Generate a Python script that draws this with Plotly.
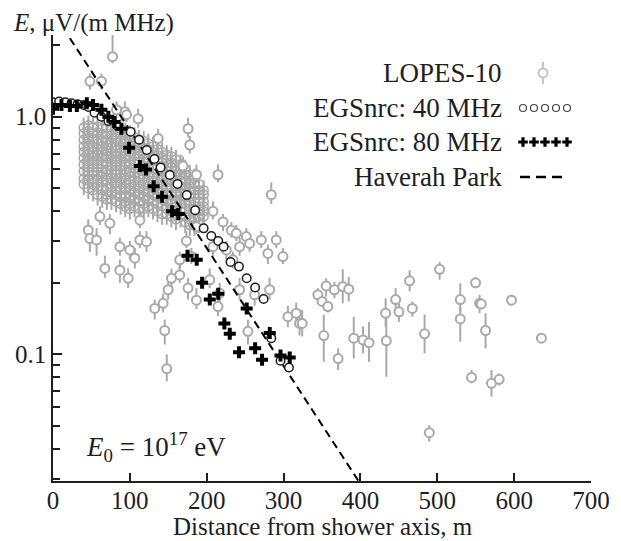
import plotly.graph_objects as go

# ---------------- data ----------------
# EGSnrc simulation, 40 MHz (open circles)
egs40_x = [0, 8, 16, 24, 32, 40, 46, 54, 63, 72, 83, 101, 112, 122, 132, 140, 152, 162,
           174, 185, 196, 206, 215, 222, 231, 242, 252, 263, 274, 284, 296, 307]
egs40_y = [1.15, 1.16, 1.15, 1.14, 1.13, 1.12, 1.10, 1.04, 1.0, 0.96, 0.92, 0.865, 0.80,
           0.724, 0.664, 0.612, 0.569, 0.521, 0.468, 0.404, 0.339, 0.315, 0.300, 0.284,
           0.245, 0.234, 0.209, 0.191, 0.171, 0.117, 0.094, 0.088]

# EGSnrc simulation, 80 MHz (black crosses)
egs80_x = [0, 11, 22, 31, 44, 52, 63, 72, 80, 89, 99, 113, 121, 131, 142, 155, 163, 175,
           187, 194, 204, 215, 223, 230, 242, 252, 263, 272, 282, 296, 308]
egs80_y = [1.08, 1.12, 1.11, 1.11, 1.14, 1.12, 1.07, 1.0, 0.95, 0.89, 0.74, 0.62, 0.60,
           0.51, 0.46, 0.40, 0.39, 0.26, 0.25, 0.20, 0.17, 0.18, 0.135, 0.122, 0.102,
           0.156, 0.106, 0.095, 0.123, 0.099, 0.097]

# Haverah Park parametrisation (dashed line)
hp_x = [22, 400]
hp_y = [2.14, 0.0285]

# LOPES-10 events: distance, field, error-bar top, error-bar bottom
lopes_x = [77.5, 48, 63, 93.5, 110.8, 175.8, 178, 284, 82.7, 95.7, 136.8, 169.2, 186.6,
           214.7, 208.2, 221.2, 232, 238.5, 251.5, 255.8, 271, 290.5, 279.6, 299.1, 242.8,
           225.5, 208.2, 186.6, 173.6, 180, 164.9, 164.9, 154.1, 149.8, 143.3, 132.4, 145.4,
           148, 175.7, 186.6, 203.9, 216.9, 214.7, 234.2, 242.8, 262.3, 281.8, 305.6, 316.4,
           320.8, 253.6, 45.9, 48, 56.7, 67.5, 61, 74, 87, 87, 97.8, 100, 106.5, 113, 121.6,
           113, 324.2, 344.6, 350.2, 357.6, 355.4, 366.2, 377, 384.8, 352.3, 371, 391.3,
           403.4, 411.2, 433.7, 432.8, 445.8, 450.1, 464, 467.5, 483.5, 503, 529.9, 529.9,
           549.8, 555, 557.2, 562.8, 544.6, 570.5, 580.5, 596.5, 635.5, 489.6]
lopes_y = [1.79, 1.41, 1.41, 1.05, 0.98, 0.89, 0.76, 0.47, 1.07, 1.02, 0.81, 0.62, 0.57,
           0.57, 0.40, 0.361, 0.333, 0.323, 0.313, 0.293, 0.303, 0.303, 0.266, 0.258, 0.284,
           0.275, 0.284, 0.344, 0.30, 0.258, 0.25, 0.216, 0.209, 0.187, 0.164, 0.156, 0.126,
           0.087, 0.19, 0.169, 0.206, 0.181, 0.159, 0.25, 0.187, 0.178, 0.187, 0.144, 0.149,
           0.135, 0.125, 0.333, 0.307, 0.303, 0.23, 0.38, 0.356, 0.284, 0.226, 0.209, 0.275,
           0.254, 0.303, 0.298, 0.367, 0.135, 0.178, 0.167, 0.159, 0.194, 0.187, 0.193,
           0.188, 0.120, 0.096, 0.117, 0.115, 0.112, 0.114, 0.149, 0.170, 0.151, 0.204,
           0.156, 0.122, 0.228, 0.170, 0.141, 0.200, 0.164, 0.163, 0.126, 0.080, 0.0755,
           0.0785, 0.169, 0.117, 0.0468]
lopes_hi = [2.28, 1.52, 1.52, 1.16, 1.08, 0.99, 0.83, 0.53, 1.16, 1.10, 0.89, 0.68, 0.63,
            0.63, 0.44, 0.39, 0.36, 0.35, 0.34, 0.32, 0.33, 0.33, 0.29, 0.28, 0.31, 0.30,
            0.31, 0.37, 0.33, 0.28, 0.27, 0.24, 0.23, 0.21, 0.18, 0.17, 0.14, 0.10, 0.21,
            0.19, 0.23, 0.20, 0.175, 0.27, 0.21, 0.20, 0.21, 0.16, 0.165, 0.15, 0.14, 0.37,
            0.34, 0.34, 0.26, 0.42, 0.39, 0.31, 0.25, 0.23, 0.30, 0.28, 0.33, 0.33, 0.40,
            0.154, 0.19, 0.18, 0.165, 0.209, 0.202, 0.228, 0.212, 0.147, 0.106, 0.144,
            0.131, 0.137, 0.156, 0.172, 0.190, 0.164, 0.226, 0.167, 0.147, 0.245, 0.199,
            0.159, 0.212, 0.178, 0.17, 0.149, 0.086, 0.086, 0.083, 0.178, 0.123, 0.0504]
lopes_lo = [1.68, 1.30, 1.30, 0.96, 0.90, 0.82, 0.70, 0.43, 0.99, 0.95, 0.75, 0.57, 0.53,
            0.53, 0.37, 0.33, 0.31, 0.30, 0.29, 0.27, 0.28, 0.28, 0.24, 0.24, 0.26, 0.25,
            0.26, 0.32, 0.28, 0.24, 0.23, 0.20, 0.19, 0.17, 0.15, 0.14, 0.11, 0.077, 0.17,
            0.155, 0.19, 0.165, 0.145, 0.23, 0.17, 0.16, 0.17, 0.13, 0.135, 0.12, 0.11, 0.30,
            0.27, 0.26, 0.21, 0.35, 0.32, 0.26, 0.20, 0.19, 0.25, 0.23, 0.28, 0.27, 0.34,
            0.119, 0.17, 0.16, 0.15, 0.175, 0.172, 0.164, 0.167, 0.093, 0.086, 0.096,
            0.101, 0.093, 0.0805, 0.131, 0.154, 0.137, 0.184, 0.144, 0.101, 0.206, 0.151,
            0.113, 0.190, 0.149, 0.155, 0.106, 0.0755, 0.0664, 0.074, 0.161, 0.112, 0.0429]

# LOPES-10 dense cluster near the core: distance columns and field values in each
cluster_x = [40, 46, 52, 58, 64, 70, 76, 82, 88, 94, 100, 106, 112, 118, 124, 130, 136,
             142, 148, 154, 160, 166, 172, 178, 184, 190, 196]
cluster_y = [
    [0.90, 0.85, 0.80, 0.75, 0.71, 0.67, 0.63, 0.59, 0.55, 0.52],
    [0.92, 0.87, 0.82, 0.77, 0.73, 0.69, 0.65, 0.61, 0.57, 0.54, 0.50],
    [0.90, 0.85, 0.80, 0.75, 0.71, 0.67, 0.63, 0.59, 0.55, 0.52, 0.49],
    [0.91, 0.86, 0.81, 0.77, 0.73, 0.69, 0.65, 0.61, 0.57, 0.54, 0.51, 0.47],
    [0.89, 0.84, 0.79, 0.75, 0.71, 0.67, 0.63, 0.59, 0.56, 0.53, 0.49, 0.46],
    [0.90, 0.85, 0.80, 0.76, 0.72, 0.68, 0.64, 0.60, 0.57, 0.54, 0.50, 0.47, 0.45],
    [0.88, 0.83, 0.78, 0.74, 0.70, 0.66, 0.62, 0.58, 0.55, 0.52, 0.48, 0.45],
    [0.91, 0.86, 0.81, 0.76, 0.72, 0.68, 0.64, 0.60, 0.57, 0.53, 0.50, 0.47, 0.44],
    [0.89, 0.84, 0.79, 0.74, 0.70, 0.66, 0.62, 0.58, 0.55, 0.52, 0.49, 0.46, 0.43],
    [0.86, 0.81, 0.77, 0.72, 0.68, 0.64, 0.60, 0.57, 0.54, 0.50, 0.47, 0.44, 0.42],
    [0.84, 0.79, 0.75, 0.71, 0.67, 0.63, 0.59, 0.56, 0.52, 0.49, 0.46, 0.43, 0.41],
    [0.82, 0.77, 0.73, 0.69, 0.65, 0.61, 0.58, 0.54, 0.51, 0.48, 0.45, 0.42],
    [0.80, 0.76, 0.72, 0.68, 0.64, 0.60, 0.56, 0.53, 0.50, 0.47, 0.44, 0.41],
    [0.79, 0.74, 0.70, 0.66, 0.62, 0.59, 0.55, 0.52, 0.49, 0.46, 0.43, 0.41],
    [0.77, 0.73, 0.69, 0.65, 0.61, 0.57, 0.54, 0.51, 0.48, 0.45, 0.42],
    [0.75, 0.71, 0.67, 0.63, 0.60, 0.56, 0.53, 0.50, 0.47, 0.44, 0.41],
    [0.73, 0.69, 0.65, 0.62, 0.58, 0.55, 0.52, 0.49, 0.46, 0.43, 0.40],
    [0.71, 0.67, 0.64, 0.60, 0.57, 0.54, 0.51, 0.48, 0.45, 0.42, 0.39],
    [0.69, 0.66, 0.62, 0.59, 0.56, 0.53, 0.50, 0.47, 0.44, 0.41, 0.39],
    [0.68, 0.64, 0.61, 0.57, 0.54, 0.51, 0.48, 0.45, 0.43, 0.40, 0.38],
    [0.66, 0.62, 0.59, 0.56, 0.53, 0.50, 0.47, 0.44, 0.42, 0.39, 0.37],
    [0.63, 0.60, 0.57, 0.54, 0.51, 0.48, 0.45, 0.43, 0.40, 0.38],
    [0.60, 0.57, 0.54, 0.51, 0.49, 0.46, 0.43, 0.41, 0.38, 0.36],
    [0.57, 0.54, 0.52, 0.49, 0.46, 0.44, 0.41, 0.39, 0.37, 0.35],
    [0.55, 0.52, 0.49, 0.47, 0.44, 0.42, 0.40, 0.37, 0.35],
    [0.52, 0.49, 0.47, 0.44, 0.42, 0.40, 0.38, 0.36],
    [0.49, 0.47, 0.44, 0.42, 0.40, 0.38],
]

x_ticks = [0, 100, 200, 300, 400, 500, 600, 700]
y_major = [0.1, 1.0]
y_major_text = ["0.1", "1.0"]
y_minor = [0.03, 0.04, 0.05, 0.06, 0.07, 0.08, 0.09, 0.2, 0.3, 0.4, 0.5, 0.6, 0.7,
           0.8, 0.9, 2.0]

legend_labels = ["LOPES-10", "EGSnrc: 40 MHz", "EGSnrc: 80 MHz", "Haverah Park"]

# ---------------- layout geometry (page pixels) ----------------
PAGE_OFF = 8                      # default body margin of the html page
W, H = 621 - PAGE_OFF, 541 - PAGE_OFF
PL, PR, PT, PB = 53, 591, 35, 481  # plot area in page pixels
L, T = PL - PAGE_OFF, PT - PAGE_OFF
R, B = W - (PR - PAGE_OFF), H - (PB - PAGE_OFF)


def px(p):
    return (p - PL) / (PR - PL)


def py(p):
    return (PB - p) / (PB - PT)


GREY = "#a9a9a9"
INK = "#1e1e1e"
FONT = "Liberation Serif"

fig = go.Figure()

cx, cy = [], []
for xv, col in zip(cluster_x, cluster_y):
    for yv in col:
        cx.append(xv)
        cy.append(yv)

fig.add_trace(go.Scatter(
    x=cx, y=cy, mode="markers",
    marker=dict(symbol="circle-open", size=9, color=GREY, line=dict(color=GREY, width=1.6)),
    error_y=dict(type="percent", value=10, color=GREY, thickness=2, width=0),
    showlegend=False, hoverinfo="skip"))

fig.add_trace(go.Scatter(
    x=lopes_x, y=lopes_y, mode="markers",
    marker=dict(symbol="circle", size=9, color="white", line=dict(color=GREY, width=2)),
    error_y=dict(type="data", symmetric=False,
                 array=[h - y for h, y in zip(lopes_hi, lopes_y)],
                 arrayminus=[y - l for l, y in zip(lopes_lo, lopes_y)],
                 color=GREY, thickness=2, width=0),
    showlegend=False, hoverinfo="skip"))

fig.add_trace(go.Scatter(
    x=hp_x, y=hp_y, mode="lines",
    line=dict(color="black", width=2, dash="8px,5px"),
    showlegend=False, hoverinfo="skip"))

fig.add_trace(go.Scatter(
    x=egs40_x, y=egs40_y, mode="markers",
    marker=dict(symbol="circle", size=8.5, color="white", line=dict(color=INK, width=1.5)),
    showlegend=False, hoverinfo="skip"))

fig.add_trace(go.Scatter(
    x=egs80_x, y=egs80_y, mode="markers",
    marker=dict(symbol="cross", size=10, color="black", line=dict(width=0)),
    showlegend=False, hoverinfo="skip"))

# ----- hand-made legend: glyphs on an overlay axis measured in page pixels -----
leg_text_x = 503
leg_rows = [73, 108, 142, 177]
sample_xs = [523, 534, 545, 556, 567]

fig.add_trace(go.Scatter(
    x=[543], y=[leg_rows[0]], xaxis="x2", yaxis="y2", mode="markers",
    marker=dict(symbol="circle", size=9, color="white", line=dict(color="#c4c4c4", width=2)),
    error_y=dict(type="constant", value=11, color="#c4c4c4", thickness=2, width=0),
    showlegend=False, hoverinfo="skip"))
fig.add_trace(go.Scatter(
    x=sample_xs, y=[leg_rows[1]] * 5, xaxis="x2", yaxis="y2", mode="markers",
    marker=dict(symbol="circle", size=7, color="white", line=dict(color="#444", width=1.2)),
    showlegend=False, hoverinfo="skip"))
fig.add_trace(go.Scatter(
    x=sample_xs, y=[leg_rows[2]] * 5, xaxis="x2", yaxis="y2", mode="markers",
    marker=dict(symbol="cross", size=8, color="black", line=dict(width=0)),
    showlegend=False, hoverinfo="skip"))
fig.add_trace(go.Scatter(
    x=[520, 568], y=[leg_rows[3]] * 2, xaxis="x2", yaxis="y2", mode="lines",
    line=dict(color="black", width=2.5, dash="10px,6px"),
    showlegend=False, hoverinfo="skip"))

annotations = []
for lab, yy in zip(legend_labels, leg_rows):
    annotations.append(dict(x=px(leg_text_x), y=py(yy), xref="paper", yref="paper",
                            text=lab, showarrow=False, xanchor="right", yanchor="middle",
                            borderpad=0,
                            font=dict(family=FONT, size=27, color=INK)))
annotations.append(dict(x=px(12), y=py(23), xref="paper", yref="paper",
                        text="<i>E</i>, μV/(m MHz)", showarrow=False,
                        xanchor="left", yanchor="middle", borderpad=0,
                        font=dict(family=FONT, size=25, color=INK)))
annotations.append(dict(x=px(85), y=py(447), xref="paper", yref="paper",
                        text="<i>E</i><sub>0</sub> = 10<sup>17</sup> eV", showarrow=False,
                        xanchor="left", yanchor="middle", borderpad=0,
                        font=dict(family=FONT, size=27, color=INK)))
annotations.append(dict(x=px(323), y=py(526), xref="paper", yref="paper",
                        text="Distance from shower axis, m", showarrow=False,
                        xanchor="center", yanchor="middle", borderpad=0,
                        font=dict(family=FONT, size=25, color=INK)))

fig.update_layout(
    width=W, height=H,
    margin=dict(l=L, r=R, t=T, b=B, autoexpand=False),
    paper_bgcolor="white", plot_bgcolor="white",
    font=dict(family=FONT, color=INK),
    annotations=annotations,
    xaxis=dict(range=[0, 700], tickvals=x_ticks, ticks="inside", ticklen=8,
               tickwidth=1.5, tickcolor=INK, showline=True, linecolor=INK,
               linewidth=1.5, showgrid=False, zeroline=False, automargin=False,
               ticklabelstandoff=-4,
               tickfont=dict(family=FONT, size=25, color=INK)),
    yaxis=dict(type="log", range=[-1.533, 0.344], tickvals=y_major,
               ticktext=y_major_text, ticks="inside", ticklen=9, tickwidth=1.5,
               tickcolor=INK, showline=True, linecolor=INK, linewidth=1.5,
               showgrid=False, zeroline=False, automargin=False,
               tickfont=dict(family=FONT, size=25, color=INK),
               minor=dict(tickvals=y_minor, ticks="inside", ticklen=7,
                          tickwidth=1.5, tickcolor=INK, showgrid=False)),
    xaxis2=dict(range=[PL, PR], overlaying="x", visible=False, fixedrange=True),
    yaxis2=dict(range=[PB, PT], overlaying="y", visible=False, fixedrange=True),
)

fig.write_html("out.html")
